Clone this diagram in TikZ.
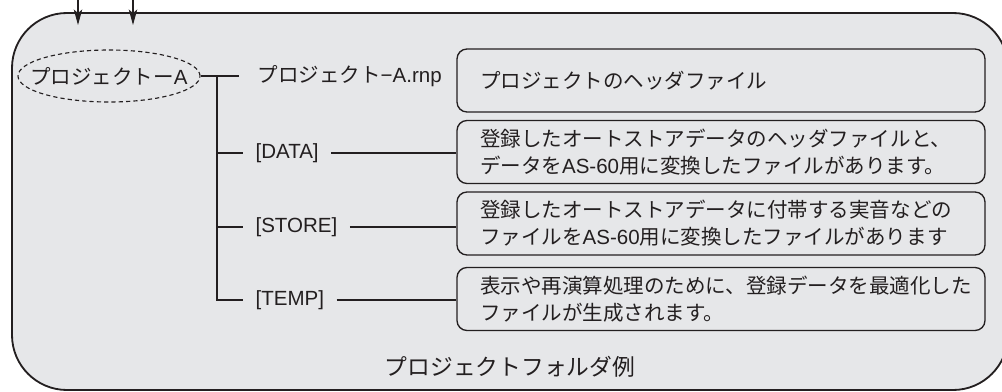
\documentclass[tikz,border=0pt]{standalone}
\usepackage{fontspec}
\setmainfont{Noto Sans CJK JP}
\newfontfamily\PFLatin{Liberation Sans}
\usetikzlibrary{shapes.geometric,arrows.meta}
\definecolor{PFInk}{RGB}{35,31,32}
\definecolor{PFGray}{RGB}{230,231,233}
\exhyphenpenalty=10000
\hyphenpenalty=10000

\begin{document}
\begin{tikzpicture}[>={Stealth[length=11pt,width=6pt,inset=2.5pt]},color=PFInk,line width=.8pt,
    font=\fontsize{14.6pt}{19.2pt}\selectfont,
    leaf/.style={inner xsep=.3cm,inner ysep=0pt,anchor=west,font=\fontsize{14.6pt}{19.2pt}\selectfont\PFLatin},
    descbox/.style={draw,line width=.95pt,rounded corners=.25cm,minimum width=13.2cm,minimum height=1.575cm,
      text width=12.05cm,align=left,inner xsep=.575cm}]
      \useasboundingbox (0,0) rectangle (25.05,9.775);
      % folder frame
      \draw[fill=PFGray,line width=1.3pt,rounded corners=1.375cm] (0.3,0.025) rectangle (25.2,9.45);
      \coordinate (in1) at (1.95,10);
      \coordinate (tip1) at (1.95,9.15);
      \coordinate (in2) at (3.325,10);
      \coordinate (tip2) at (3.325,9.15);
      \draw[->] (in1) -- (tip1);
      \draw[->] (in2) -- (tip2);
      % tree
      \node[ellipse,draw,dash pattern=on 3pt off 2.2pt,minimum width=4.55cm,minimum height=1.3cm,inner sep=0pt] (proj) at (2.725,7.875) {\makebox[3.2cm]{プロジェクトー{\PFLatin A}}};
      \coordinate (trunk) at (5.425,7.875);
      \node[leaf,inner xsep=.45cm,font=\fontsize{14.6pt}{19.2pt}\selectfont] (rnp) at (5.975,7.875) {プロジェクト{\PFLatin −A.rnp}};
      \node[leaf] (data) at (6.075,5.95) {[DATA]};
      \node[leaf] (store) at (6.075,4.1) {[STORE]};
      \node[leaf] (temp) at (6.075,2.275) {[TEMP]};
      \draw (proj.east) -- (rnp.west);
      \draw (trunk) |- (temp.west);
      \draw (trunk |- data.west) -- (data.west);
      \draw (trunk |- store.west) -- (store.west);
      % descriptions
      \node[descbox] (head) at (18.025,7.7625) {プロジェクトのヘッダファイル};
      \node[descbox] (datadesc) at (18.025,5.975) {登録したオートストアデータのヘッダファイルと、\\データを{\PFLatin AS-60}用に変換したファイルがあります。};
      \node[descbox] (storedesc) at (18.025,4.1875) {登録したオートストアデータに付帯する実音などの\\ファイルを{\PFLatin AS-60}用に変換したファイルがあります};
      \node[descbox] (tempdesc) at (18.025,2.3) {表示や再演算処理のために、登録データを最適化した\\ファイルが生成されます。};
      \draw (data.east) -- (data.east -| datadesc.west);
      \draw (store.east) -- (store.east -| storedesc.west);
      \draw (temp.east) -- (temp.east -| tempdesc.west);
      \node[font=\fontsize{16.2pt}{19pt}\selectfont] (caption) at (12.75,0.6) {プロジェクトフォルダ例};
    \end{tikzpicture}
\end{document}
